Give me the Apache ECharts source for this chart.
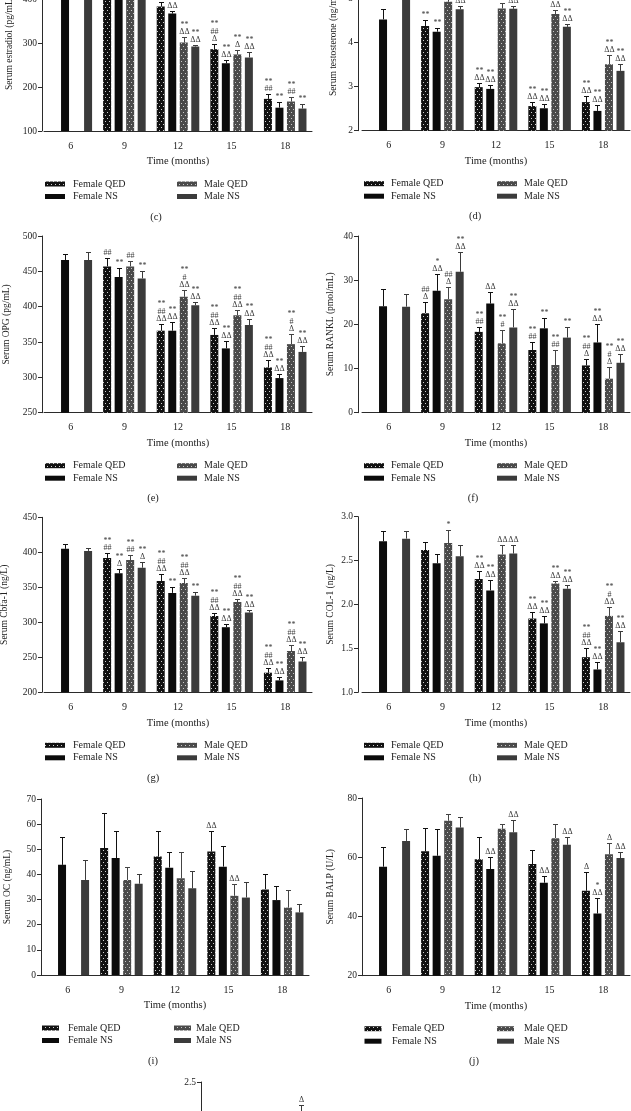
<!DOCTYPE html>
<html><head><meta charset="utf-8">
<script src="https://cdn.jsdelivr.net/npm/echarts@6/dist/echarts.min.js"></script>
<style>html,body{margin:0;padding:0;background:#fff}#chart{width:631px;height:1111px}</style>
</head><body><div id="chart"></div>
<script>
// ---------------- DATA ----------------
const months = ['6', '9', '12', '15', '18'];
const groupNames = ['Female QED', 'Female NS', 'Male QED', 'Male NS'];
const xAxisTitle = 'Time (months)';

// order inside each array: Female QED, Female NS, Male QED, Male NS
const estradiolMean = [[null, 425, 383, 286, 173], [440, 420, 367, 254, 153], [null, 415, 301, 274, 167], [445, 410, 292, 267, 151]];
const estradiolUpper = [[null, 440, 394, 297, 185], [455, 432, 372, 261, 165], [null, 428, 313, 284, 177], [460, 420, 295, 279, 161]];
const estradiolSig = [['', '', '**\nΔΔ', '**\n##\nΔ', '**\n##'], ['', '', '**\nΔΔ', '**\nΔΔ', '**'], ['', '', '**\nΔΔ', '**\nΔ', '**\n##'], ['', '', '**\nΔΔ', '**\nΔΔ', '**']];

const testosteroneMean = [[null, 4.38, 2.99, 2.56, 2.65], [4.53, 4.25, 2.95, 2.51, 2.45], [null, 4.93, 4.78, 4.65, 3.51], [5.3, 4.76, 4.77, 4.36, 3.36]];
const testosteroneUpper = [[null, 4.52, 3.08, 2.66, 2.78], [4.76, 4.33, 3.03, 2.60, 2.58], [null, 5.0, 4.91, 4.74, 3.72], [5.5, 4.83, 4.84, 4.42, 3.51]];
const testosteroneSig = [['', '**', '**\nΔΔ', '**\nΔΔ', '**\nΔΔ'], ['', '**', '**\nΔΔ', '**\nΔΔ', '**\nΔΔ'], ['', '**\nΔΔ', '**\nΔΔ', '**\nΔΔ', '**\nΔΔ'], ['', '**\nΔΔ', '**\nΔΔ', '**\nΔΔ', '**\nΔΔ']];

const opgMean = [[null, 457, 366, 360, 314], [466, 442, 366, 341, 299], [null, 457, 414, 388, 347], [466, 440, 402, 374, 336]];
const opgUpper = [[null, 469, 375, 370, 325], [474, 455, 378, 351, 305], [null, 464, 423, 396, 361], [478, 450, 407, 382, 345]];
const opgSig = [['', '##', '**\n##\nΔΔ', '**\n##\nΔΔ', '**\n##\nΔΔ'], ['', '**', '**\nΔΔ', '**\nΔΔ', '**\nΔΔ'], ['', '##', '**\n#\nΔΔ', '**\n##\nΔΔ', '**\n#\nΔ'], ['', '**', '**\nΔΔ', '**\nΔΔ', '**\nΔΔ']];

const ranklMean = [[null, 22.5, 18.3, 14.2, 10.7], [24.1, 27.6, 24.7, 19.1, 15.9], [null, 25.7, 15.7, 10.8, 7.7], [24.0, 31.9, 19.3, 17.0, 11.3]];
const ranklUpper = [[null, 25.0, 19.5, 16.1, 12.1], [27.9, 31.5, 27.4, 21.4, 20.0], [null, 28.4, 18.7, 14.2, 10.3], [26.9, 36.3, 23.4, 19.3, 13.4]];
const ranklSig = [['', '##\nΔ', '**\n##', '**\n##', '**\n##\nΔ'], ['', '*\nΔΔ', 'ΔΔ', '**', '**\nΔΔ'], ['', '##\nΔ', '**\n#', '**\n##', '**\n#\nΔ'], ['', '**\nΔΔ', '**\nΔΔ', '**', '**\nΔΔ']];

const cbfaMean = [[null, 392, 359, 309, 228], [405, 370, 342, 293, 217], [null, 389, 356, 329, 259], [402, 378, 338, 314, 244]];
const cbfaUpper = [[null, 399, 369, 313, 235], [412, 376, 350, 298, 222], [null, 396, 364, 334, 268], [406, 386, 344, 318, 251]];
const cbfaSig = [['', '**\n##', '**\n##\nΔΔ', '**\n##\nΔΔ', '**\n##\nΔΔ'], ['', '**\nΔ', '**', '**\nΔΔ', '**\nΔΔ'], ['', '**\n##', '**\n##\nΔΔ', '**\n##\nΔΔ', '**\n##\nΔΔ'], ['', '**\nΔ', '**', '**\nΔΔ', '**\nΔΔ']];

const colMean = [[null, 2.62, 2.29, 1.84, 1.40], [2.72, 2.47, 2.16, 1.785, 1.26], [null, 2.70, 2.57, 2.24, 1.87], [2.75, 2.55, 2.58, 2.18, 1.57]];
const colUpper = [[null, 2.71, 2.38, 1.91, 1.50], [2.835, 2.58, 2.28, 1.87, 1.35], [null, 2.85, 2.68, 2.27, 1.97], [2.84, 2.68, 2.68, 2.22, 1.70]];
const colSig = [['', '', '**\nΔΔ', '**\nΔΔ', '**\n##\nΔΔ'], ['', '', '**\nΔΔ', '**\nΔΔ', '**\nΔΔ'], ['', '*', 'ΔΔ', '**\nΔΔ', '**\n#\nΔΔ'], ['', '', 'ΔΔ', '**\nΔΔ', '**\nΔΔ']];

const ocMean = [[null, 50.5, 47.1, 49.1, 34.0], [43.8, 46.5, 42.7, 43.1, 29.8], [null, 37.8, 38.5, 31.5, 26.8], [37.8, 36.3, 34.5, 30.8, 24.9]];
const ocUpper = [[null, 64.4, 57.1, 57.1, 40.2], [54.9, 57.4, 49.1, 51.5, 35.5], [null, 42.9, 48.9, 36.0, 34.0], [45.8, 40.2, 41.2, 36.9, 28.2]];
const ocSig = [['', '', '', 'ΔΔ', ''], ['', '', '', '', ''], ['', '', '', 'ΔΔ', ''], ['', '', '', '', '']];

const balpMean = [[null, 62.0, 59.3, 57.7, 48.7], [56.8, 60.5, 56.0, 51.4, 41.0], [null, 72.3, 69.6, 66.4, 61.0], [65.5, 70.0, 68.4, 64.2, 59.7]];
const balpUpper = [[null, 70.0, 66.8, 62.5, 54.9], [63.6, 69.5, 60.2, 53.7, 46.3], [null, 74.5, 71.3, 71.3, 64.8], [69.5, 73.5, 72.6, 67.0, 61.6]];
const balpSig = [['', '', '', '', 'Δ'], ['', '', 'ΔΔ', 'ΔΔ', '*\nΔΔ'], ['', '', '', '', 'Δ'], ['', '', 'ΔΔ', 'ΔΔ', 'ΔΔ']];

const kMean = [[null, 1.55, 1.45, 1.35, 1.25], [1.7, 1.6, 1.5, 1.4, 1.3], [null, 1.75, 1.6, 1.5, 1.4], [1.8, 2.0, 1.7, 1.6, 1.5]];
const kUpper = [[null, 1.7, 1.6, 1.5, 1.4], [1.85, 1.75, 1.65, 1.55, 1.45], [null, 1.9, 1.75, 1.65, 1.55], [1.95, 2.17, 1.85, 1.75, 1.65]];
const kSig = [['', '', '', '', ''], ['', '', '', '', ''], ['', '', '', '', ''], ['', 'Δ', '', '', '']];

// ---------------- LAYOUT / STYLE ----------------
const FONT = '"Liberation Serif", "DejaVu Serif", serif';
const TXT = '#222';
function dotPattern(bg, dot) {
  const c = document.createElement('canvas');
  c.width = 4; c.height = 6;
  const g = c.getContext('2d');
  g.fillStyle = bg; g.fillRect(0, 0, 4, 6);
  g.fillStyle = dot; g.fillRect(1, 1, 1, 1); g.fillRect(3, 4, 1, 1);
  return { image: c, repeat: 'repeat' };
}
const fills = [dotPattern('#111', '#d0d0d0'), '#0b0b0b', dotPattern('#4a4a4a', '#c8c8c8'), '#3b3b3b'];
const errColors = ['#111', '#111', '#444', '#3b3b3b'];

const panels = [
  { label: '(c)', yName: 'Serum estradiol (pg/mL)', mean: estradiolMean, upper: estradiolUpper, sig: estradiolSig, min: 100, max: 500, interval: 100, left: 44, top: -45, width: 268, height: 176, offset: 2, nameGap: 28, col: 0, labelX: 156 },
  { label: '(d)', yName: 'Serum testosterone (ng/mL)', mean: testosteroneMean, upper: testosteroneUpper, sig: testosteroneSig, min: 2, max: 6, interval: 1, left: 362, top: -45.3, width: 268, height: 176, offset: 4, nameGap: 20, col: 1, labelX: 475 },
  { label: '(e)', yName: 'Serum OPG (pg/mL)', mean: opgMean, upper: opgUpper, sig: opgSig, min: 250, max: 500, interval: 50, left: 44, top: 236, width: 268, height: 176.7, offset: 2, nameGap: 31, col: 0, labelX: 153 },
  { label: '(f)', yName: 'Serum RANKL (pmol/mL)', mean: ranklMean, upper: ranklUpper, sig: ranklSig, min: 0, max: 40, interval: 10, left: 362, top: 236, width: 268, height: 176.7, offset: 4, nameGap: 23, col: 1, labelX: 473 },
  { label: '(g)', yName: 'Serum Cbfa-1 (ng/L)', mean: cbfaMean, upper: cbfaUpper, sig: cbfaSig, min: 200, max: 450, interval: 50, left: 44, top: 517.3, width: 268, height: 175, offset: 2, nameGap: 33, col: 0, labelX: 153 },
  { label: '(h)', yName: 'Serum COL-1 (ng/L)', mean: colMean, upper: colUpper, sig: colSig, min: 1, max: 3, interval: 0.5, dec: 1, left: 362, top: 516.7, width: 268, height: 175.6, offset: 4, nameGap: 23, col: 1, labelX: 475 },
  { label: '(i)', yName: 'Serum OC (ng/mL)', mean: ocMean, upper: ocUpper, sig: ocSig, min: 0, max: 70, interval: 10, left: 41, top: 799, width: 268, height: 176, offset: 0, nameGap: 29, col: 2, labelX: 153 },
  { label: '(j)', yName: 'Serum BALP (U/L)', mean: balpMean, upper: balpUpper, sig: balpSig, min: 20, max: 80, interval: 20, left: 362, top: 798, width: 268, height: 177.7, offset: 0, nameGap: 27, col: 3, labelX: 474 },
  { label: '', yName: '', mean: kMean, upper: kUpper, sig: kSig, min: 0, max: 2.5, interval: 0.5, dec: 1, left: 203, top: 1082, width: 268, height: 176, offset: 2, nameGap: 30, col: -1, labelX: 0 }
];
// legend positions per column type: [swatchX, swatchW, textX, maleSwatchX, maleTextX]
const legendCols = { 0: [45, 20, 73, 177, 204], 1: [364, 20, 391, 497, 524], 2: [42, 17, 68, 174, 196], 3: [364.5, 17, 392, 497, 524] };

const grids = [], xAxes = [], yAxes = [], series = [], graphics = [];
const SLOT = 11.52;

panels.forEach((p, g) => {
  grids.push({ left: p.left, top: p.top, width: p.width, height: p.height, containLabel: false, outerBoundsMode: 'none' });
  xAxes.push({
    gridIndex: g, type: 'category', data: months,
    axisLine: { lineStyle: { color: '#2b2b2b', width: 1 } },
    axisTick: { alignWithLabel: true, length: 5, lineStyle: { color: '#2b2b2b' } },
    axisLabel: { margin: 10, fontSize: 10, color: TXT, fontFamily: FONT },
    name: xAxisTitle, nameLocation: 'middle', nameGap: 25, nameMoveOverlap: false,
    nameTextStyle: { fontSize: 10.5, color: TXT, fontFamily: FONT }
  });
  yAxes.push({
    gridIndex: g, type: 'value', min: p.min, max: p.max, interval: p.interval, offset: p.offset,
    axisLine: { show: true, lineStyle: { color: '#2b2b2b', width: 1 } },
    axisTick: { show: true, length: 4, lineStyle: { color: '#2b2b2b' } },
    splitLine: { show: false },
    axisLabel: { margin: 5, fontSize: 9.5, color: TXT, fontFamily: FONT, formatter: v => p.dec ? v.toFixed(p.dec) : String(v) },
    name: p.yName, nameLocation: 'middle', nameGap: p.nameGap, nameMoveOverlap: false,
    nameTextStyle: { fontSize: 9.5, color: TXT, fontFamily: FONT }
  });
  for (let i = 0; i < 4; i++) {
    series.push({
      type: 'bar', name: groupNames[i], xAxisIndex: g, yAxisIndex: g,
      data: p.mean[i].map(v => v == null ? '-' : v),
      barWidth: 8, barGap: '44%', itemStyle: { color: fills[i] }, silent: true, animation: false
    });
    const sigArr = p.sig[i];
    series.push({
      type: 'custom', xAxisIndex: g, yAxisIndex: g, z: 5, silent: true, animation: false,
      data: p.mean[i].map((v, j) => v == null ? null : [j, v, p.upper[i][j]]).filter(d => d),
      renderItem: (params, api) => {
        const j = api.value(0);
        const p0 = api.coord([j, api.value(1)]);
        const p1 = api.coord([j, api.value(2)]);
        const x = Math.round(p0[0] + (i - 1.5) * SLOT) + 0.5;
        const y1 = Math.round(p1[1]) + 0.5;
        const col = errColors[i];
        const ch = [
          { type: 'line', shape: { x1: x, y1: p0[1], x2: x, y2: y1 }, style: { stroke: col, lineWidth: 1 } },
          { type: 'line', shape: { x1: x - 2.5, y1: y1, x2: x + 2.5, y2: y1 }, style: { stroke: col, lineWidth: 1 } }
        ];
        const s = sigArr[j];
        if (s) ch.push({ type: 'text', style: { text: s, x: x, y: y1 - 1.5, align: 'center', verticalAlign: 'bottom', textAlign: 'center', textVerticalAlign: 'bottom', font: '8px ' + FONT, fill: '#3a3a3a', lineHeight: 7.5 } });
        return { type: 'group', children: ch };
      }
    });
  }
  if (p.col >= 0) {
    const bottom = p.top + p.height;
    const L = legendCols[p.col];
    const rows = [bottom + 53, bottom + 65.5];
    const items = [[L[0], L[2], rows[0], 0], [L[3], L[4], rows[0], 2], [L[0], L[2], rows[1], 1], [L[3], L[4], rows[1], 3]];
    items.forEach(([sx, tx, ry, si]) => {
      graphics.push({ type: 'rect', silent: true, shape: { x: sx, y: ry - 2.5, width: L[1], height: 5 }, style: { fill: fills[si] } });
      graphics.push({ type: 'text', silent: true, style: { text: groupNames[si], x: tx, y: ry, align: 'left', verticalAlign: 'middle', textAlign: 'left', textVerticalAlign: 'middle', font: '10px ' + FONT, fill: TXT } });
    });
    graphics.push({ type: 'text', silent: true, style: { text: p.label, x: p.labelX, y: bottom + 86, align: 'center', verticalAlign: 'middle', textAlign: 'center', textVerticalAlign: 'middle', font: '10.5px ' + FONT, fill: TXT } });
  }
});

const chart = echarts.init(document.getElementById('chart'), null, { renderer: 'canvas' });
chart.setOption({
  animation: false,
  backgroundColor: '#fff',
  grid: grids, xAxis: xAxes, yAxis: yAxes, series: series,
  graphic: { elements: graphics }
});
</script>
</body></html>
